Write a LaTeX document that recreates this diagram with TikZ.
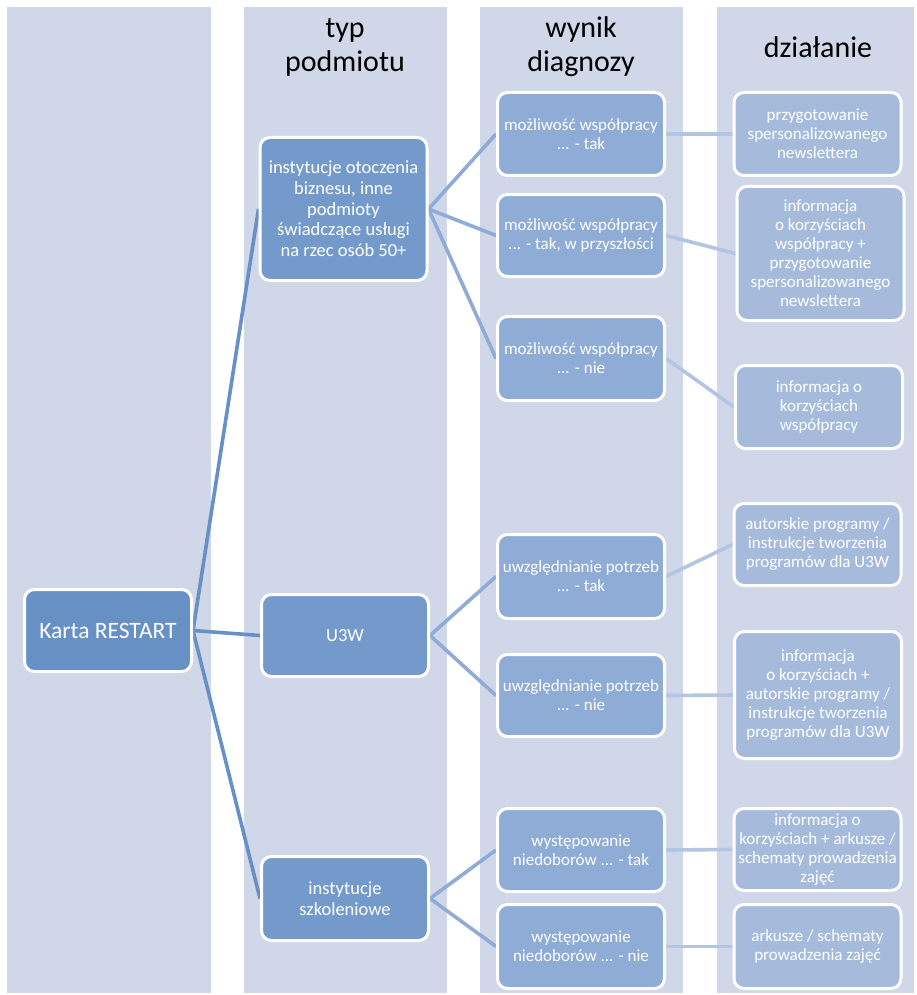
\documentclass[tikz,border=0pt]{standalone}
\usepackage{fontspec}
\setmainfont{Carlito}
\usetikzlibrary{positioning}
\definecolor{stripe-grey}{HTML}{D0D7E8}
\definecolor{restart-blue}{HTML}{6791C5}
\definecolor{type-blue}{HTML}{749ACB}
\definecolor{result-blue}{HTML}{8EACD5}
\definecolor{action-blue}{HTML}{A6BBDC}
\definecolor{link-pale}{HTML}{B2C5E2}

\pgfdeclarelayer{stripes}
\pgfdeclarelayer{links}
\pgfsetlayers{stripes,links,main}

\tikzset{
  card/.style={draw=white, line width=3pt, rounded corners=10pt, text=white,
               align=center, inner sep=2pt, minimum width=167pt},
  root-card/.style={card, fill=restart-blue, font=\fontsize{23.5}{27}\selectfont},
  type-card/.style={card, fill=type-blue, font=\fontsize{18.5}{20.7}\selectfont},
  result-card/.style={card, fill=result-blue, font=\fontsize{17}{19}\selectfont},
  action-card/.style={card, fill=action-blue, font=\fontsize{17}{19}\selectfont},
  header/.style={align=center, font=\fontsize{30}{34}\selectfont},
  stripe/.style={fill=stripe-grey, draw=none},
  link/.style={line width=3.6pt}
}

\begin{document}
\begin{tikzpicture}[x=1pt, y=-1pt]
  \useasboundingbox (0,0) rectangle (917,995);

  % column stripes
  \begin{pgfonlayer}{stripes}
    \fill[white] (0,0) rectangle (917,995);
    \fill[stripe] (7,7) rectangle (211,993);
    \fill[stripe] (244,7) rectangle (447,993);
    \fill[stripe] (480,7) rectangle (683,993);
    \fill[stripe] (717,7) rectangle (914,993);
  \end{pgfonlayer}

  % headers
  \node[header] (hdr-typ) at (345,47) {typ\\podmiotu};
  \node[header] (hdr-wynik) at (581,47) {wynik\\diagnozy};
  \node[header] (hdr-dzial) at (818,47) {działanie};

  % root
  \node[root-card, minimum height=82pt] (karta) at (108,630.5) {Karta RESTART};

  % typ podmiotu
  \node[type-card, minimum height=143pt] (biznes) at (343.5,209)
    {instytucje otoczenia\\biznesu, inne\\podmioty\\świadczące usługi\\na rzec osób 50+};
  \node[type-card, minimum height=82pt] (u3w) at (345,635.5) {U3W};
  \node[type-card, minimum height=84pt] (szkol) at (345,898.5) {instytucje\\szkoleniowe};

  % wynik diagnozy
  \node[result-card, minimum height=83pt] (wsp-tak) at (581,134) {możliwość współpracy\\... - tak};
  \node[result-card, minimum height=82pt] (wsp-pozn) at (581,235.5) {możliwość współpracy\\... - tak, w przyszłości};
  \node[result-card, minimum height=84pt] (wsp-nie) at (581,358.5) {możliwość współpracy\\... - nie};
  \node[result-card, minimum height=84pt] (potr-tak) at (581,576.5) {uwzględnianie potrzeb\\... - tak};
  \node[result-card, minimum height=82pt] (potr-nie) at (581,695.5) {uwzględnianie potrzeb\\... - nie};
  \node[result-card, minimum height=83pt] (nied-tak) at (581,850) {występowanie\\niedoborów ... - tak};
  \node[result-card, minimum height=84pt] (nied-nie) at (581,946.5) {występowanie\\niedoborów ... - nie};

  % działanie
  \node[action-card, minimum height=83pt] (news) at (817.5,134)
    {przygotowanie\\spersonalizowanego\\newslettera};
  \node[action-card, minimum height=134pt] (info-news) at (820.5,253.5)
    {informacja\\o korzyściach\\współpracy +\\przygotowanie\\spersonalizowanego\\newslettera};
  \node[action-card, minimum height=83pt] (info) at (819,407)
    {informacja o\\korzyściach\\współpracy};
  \node[action-card, minimum height=82pt] (progr) at (817.5,544.5)
    {autorskie programy /\\instrukcje tworzenia\\programów dla U3W};
  \node[action-card, minimum height=127pt] (info-progr) at (818,695)
    {informacja\\o korzyściach +\\autorskie programy /\\instrukcje tworzenia\\programów dla U3W};
  \node[action-card, minimum height=82pt] (info-ark) at (817.5,849.5)
    {informacja o\\korzyściach + arkusze /\\schematy prowadzenia\\zajęć};
  \node[action-card, minimum height=84pt] (ark) at (817.5,946.5)
    {arkusze / schematy\\prowadzenia zajęć};

  % connectors
  \begin{pgfonlayer}{links}
    \foreach \kid in {biznes, u3w, szkol}
      \draw[link, restart-blue] (karta.east) -- (\kid.west);
    \foreach \kid in {wsp-tak, wsp-pozn, wsp-nie}
      \draw[link, result-blue] (biznes.east) -- (\kid.west);
    \foreach \kid in {potr-tak, potr-nie}
      \draw[link, result-blue] (u3w.east) -- (\kid.west);
    \foreach \kid in {nied-tak, nied-nie}
      \draw[link, result-blue] (szkol.east) -- (\kid.west);
    \draw[link, link-pale] (wsp-tak.east) -- (news.west);
    \draw[link, link-pale] (wsp-pozn.east) -- (info-news.west);
    \draw[link, link-pale] (wsp-nie.east) -- (info.west);
    \draw[link, link-pale] (potr-tak.east) -- (progr.west);
    \draw[link, link-pale] (potr-nie.east) -- (info-progr.west);
    \draw[link, link-pale] (nied-tak.east) -- (info-ark.west);
    \draw[link, link-pale] (nied-nie.east) -- (ark.west);
  \end{pgfonlayer}
\end{tikzpicture}
\end{document}
